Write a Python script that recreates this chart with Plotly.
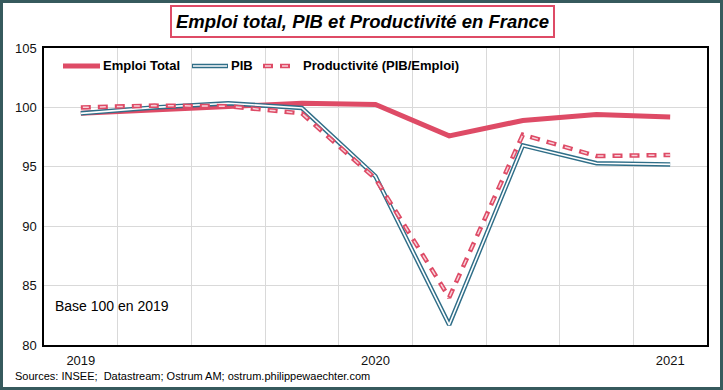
import plotly.graph_objects as go

quarters = ["2019T1", "2019T2", "2019T3", "2019T4", "2020T1", "2020T2", "2020T3", "2020T4", "2021T1"]
emploi = [99.5, 99.8, 100.1, 100.35, 100.25, 97.6, 98.9, 99.4, 99.2]
pib = [99.5, 100.0, 100.35, 99.95, 94.2, 81.7, 96.8, 95.3, 95.2]
productivite = [100.0, 100.15, 100.1, 99.5, 94.0, 84.0, 97.7, 95.9, 96.0]
year_ticks = [0, 4, 8]
year_labels = ["2019", "2020", "2021"]
y_ticks = [80, 85, 90, 95, 100, 105]

RED = "#DE4B66"
TEAL = "#2F6E88"
PINK = "#F7D3DB"
FONT = "Liberation Sans, Arial, sans-serif"

W, H = 723, 390
L, R, T, B = 44, 16, 48, 45
PW, PH = W - L - R, H - T - B


def px(x):
    return (x - L) / PW


def py(y):
    return (H - B - y) / PH


x = list(range(len(quarters)))
fig = go.Figure()
fig.add_trace(go.Scatter(x=x, y=emploi, mode="lines", line=dict(color=RED, width=5), name="Emploi Total"))
fig.add_trace(go.Scatter(x=x, y=pib, mode="lines", line=dict(color=TEAL, width=4.5), name="PIB"))
fig.add_trace(go.Scatter(x=x, y=pib, mode="lines", line=dict(color="white", width=1.6), showlegend=False))
fig.add_trace(go.Scatter(x=x, y=productivite, mode="lines", line=dict(color=RED, width=4.5, dash="10px,7px"),
                         name="Productivité (PIB/Emploi)"))
fig.add_trace(go.Scatter(x=x, y=productivite, mode="lines",
                         line=dict(color=PINK, width=1.5, dash="0px,2px,6px,9px"), showlegend=False))

shapes = []
# outer frame
shapes.append(dict(type="rect", xref="paper", yref="paper", x0=px(1.5), x1=px(W - 1.5), y0=py(H - 1.5), y1=py(1.5),
                   line=dict(color="#365A5D", width=3), layer="above"))
# legend lines
ly = py(66)
shapes.append(dict(type="line", xref="paper", yref="paper", x0=px(63), x1=px(100), y0=ly, y1=ly,
                   line=dict(color=RED, width=5)))
shapes.append(dict(type="line", xref="paper", yref="paper", x0=px(192), x1=px(228), y0=ly, y1=ly,
                   line=dict(color=TEAL, width=4.5)))
shapes.append(dict(type="line", xref="paper", yref="paper", x0=px(193), x1=px(227), y0=ly, y1=ly,
                   line=dict(color="white", width=1.6)))
shapes.append(dict(type="line", xref="paper", yref="paper", x0=px(263), x1=px(293), y0=ly, y1=ly,
                   line=dict(color=RED, width=4.5, dash="10px,7px")))
shapes.append(dict(type="line", xref="paper", yref="paper", x0=px(263), x1=px(293), y0=ly, y1=ly,
                   line=dict(color=PINK, width=1.5, dash="0px,2px,6px,9px")))

annotations = [
    dict(text="<b><i>Emploi total, PIB et Productivité en France</i></b>", xref="paper", yref="paper",
         x=px(362), y=py(21), xanchor="center", yanchor="middle", showarrow=False,
         font=dict(family=FONT, size=18.5, color="black"), bordercolor=RED, borderwidth=2, borderpad=4,
         bgcolor="white"),
    dict(text="<b>Emploi Total</b>", xref="paper", yref="paper", x=px(101), y=ly, xanchor="left",
         yanchor="middle", showarrow=False, font=dict(family=FONT, size=13, color="black")),
    dict(text="<b>PIB</b>", xref="paper", yref="paper", x=px(229), y=ly, xanchor="left",
         yanchor="middle", showarrow=False, font=dict(family=FONT, size=13, color="black")),
    dict(text="<b>Productivité (PIB/Emploi)</b>", xref="paper", yref="paper", x=px(301), y=ly, xanchor="left",
         yanchor="middle", showarrow=False, font=dict(family=FONT, size=13, color="black")),
    dict(text="Base 100 en 2019", xref="paper", yref="paper", x=px(53), y=py(306), xanchor="left",
         yanchor="middle", showarrow=False, font=dict(family=FONT, size=14, color="black")),
    dict(text="Sources: INSEE;  Datastream; Ostrum AM; ostrum.philippewaechter.com", xref="paper", yref="paper",
         x=px(13), y=py(376), xanchor="left", yanchor="middle", showarrow=False,
         font=dict(family=FONT, size=11, color="black")),
]

fig.update_layout(
    width=W, height=H,
    margin=dict(l=L, r=R, t=T, b=B),
    paper_bgcolor="white", plot_bgcolor="white",
    showlegend=False,
    shapes=shapes, annotations=annotations,
    xaxis=dict(range=[-0.5, len(quarters) - 0.5], tickvals=year_ticks, ticktext=year_labels,
               showgrid=False, zeroline=False, showline=True, linecolor="black", linewidth=1.5, mirror=True,
               ticks="", ticklabelstandoff=3,
               tickfont=dict(family=FONT, size=13, color="#111"),
               minor=dict(tick0=0.5, dtick=1, showgrid=True, gridcolor="#D9D9D9", gridwidth=1, ticks="")),
    yaxis=dict(range=[80, 105], tickvals=y_ticks, showgrid=True, gridcolor="#D9D9D9", gridwidth=1,
               zeroline=False, showline=True, linecolor="black", linewidth=1.5, mirror=True, ticks="",
               ticklabelstandoff=3,
               tickfont=dict(family=FONT, size=13, color="#111")),
)

fig.write_html("out.html", config={"displayModeBar": False},
               post_script="document.body.style.margin='0';document.body.style.overflow='hidden';")
